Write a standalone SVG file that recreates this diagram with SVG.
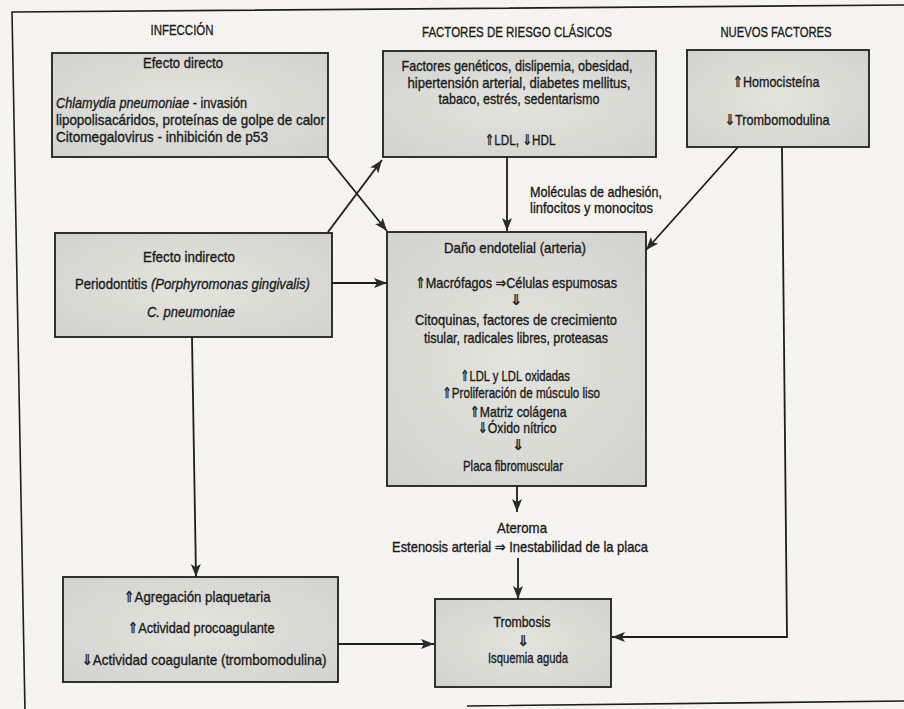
<svg xmlns="http://www.w3.org/2000/svg" width="904" height="709" viewBox="0 0 904 709">
<defs>
<radialGradient id="boxfill" cx="50%" cy="50%" r="70%">
<stop offset="0" stop-color="#e4e4df"/>
<stop offset="1" stop-color="#d2d3ce"/>
</radialGradient>
<marker id="arr" markerUnits="userSpaceOnUse" markerWidth="14" markerHeight="10" refX="13" refY="5" orient="auto">
<path d="M0,0 L13,5 L0,10 L3,5 Z" fill="#2a2a2a"/>
</marker>
</defs>
<style>
.bg{fill:#f6f4f1}
.frame{fill:none;stroke:#1e1e1e;stroke-width:1.6}
.box{fill:url(#boxfill);stroke:#1e1e1e;stroke-width:1.8}
text{font-family:"Liberation Sans","DejaVu Sans",sans-serif;font-size:15px;fill:#1a1a1a;stroke:#1a1a1a;stroke-width:0.35}
.c{text-anchor:middle}
.i{font-style:italic}
.sym{font-family:"DejaVu Sans",sans-serif}
.ar{fill:none;stroke:#1e1e1e;stroke-width:1.8;marker-end:url(#arr)}
</style>
<rect class="bg" x="0" y="0" width="904" height="709"/>
<path class="frame" d="M904,5 L12,12 L25,712 M467,706 L904,701"/>

<g id="headers">
<text class="c" x="182" y="35" textLength="63" lengthAdjust="spacingAndGlyphs">INFECCIÓN</text>
<text class="c" x="517" y="37" textLength="190" lengthAdjust="spacingAndGlyphs">FACTORES DE RIESGO CLÁSICOS</text>
<text class="c" x="776" y="37" textLength="111" lengthAdjust="spacingAndGlyphs">NUEVOS FACTORES</text>
</g>

<g id="connectors">
<path class="ar" d="M328,158 L387,231"/>
<path class="ar" d="M328,232 L382,160"/>
<path class="ar" d="M507,157 L507,231"/>
<path class="ar" d="M738,147 L646,250"/>
<path class="ar" d="M332,283 L387,283"/>
<path class="ar" d="M192,337 L196,577"/>
<path class="ar" d="M517,486 L517,512"/>
<path class="ar" d="M518,558 L518,599"/>
<path class="ar" d="M338,644 L434,644"/>
<path class="ar" d="M782,147 L787,637 L612,637"/>
</g>

<g id="efecto-directo">
<rect class="box" x="52" y="53" width="276" height="104"/>
<text class="c" x="183" y="68" textLength="80" lengthAdjust="spacingAndGlyphs">Efecto directo</text>
<text x="56" y="108" textLength="191" lengthAdjust="spacingAndGlyphs"><tspan class="i">Chlamydia pneumoniae</tspan> - invasión</text>
<text x="56" y="125" textLength="269" lengthAdjust="spacingAndGlyphs">lipopolisacáridos, proteínas de golpe de calor</text>
<text x="56" y="142" textLength="212" lengthAdjust="spacingAndGlyphs">Citomegalovirus - inhibición de p53</text>
</g>

<g id="factores-clasicos">
<rect class="box" x="383" y="51" width="273" height="106"/>
<text class="c" x="517" y="71" textLength="231" lengthAdjust="spacingAndGlyphs">Factores genéticos, dislipemia, obesidad,</text>
<text class="c" x="519" y="88" textLength="223" lengthAdjust="spacingAndGlyphs">hipertensión arterial, diabetes mellitus,</text>
<text class="c" x="519" y="104" textLength="161" lengthAdjust="spacingAndGlyphs">tabaco, estrés, sedentarismo</text>
<text class="c" x="520" y="145" textLength="71" lengthAdjust="spacingAndGlyphs">⇑LDL, ⇓HDL</text>
</g>

<g id="nuevos-factores">
<rect class="box" x="687" y="50" width="182" height="97"/>
<text class="c" x="776" y="87" textLength="87" lengthAdjust="spacingAndGlyphs">⇑Homocisteína</text>
<text class="c" x="777" y="125" textLength="105" lengthAdjust="spacingAndGlyphs">⇓Trombomodulina</text>
</g>

<g id="label-moleculas">
<text x="530" y="197" textLength="132" lengthAdjust="spacingAndGlyphs">Moléculas de adhesión,</text>
<text x="530" y="213" textLength="123" lengthAdjust="spacingAndGlyphs">linfocitos y monocitos</text>
</g>

<g id="efecto-indirecto">
<rect class="box" x="55" y="233" width="277" height="104"/>
<text class="c" x="189" y="262" textLength="92" lengthAdjust="spacingAndGlyphs">Efecto indirecto</text>
<text x="75" y="289" textLength="235" lengthAdjust="spacingAndGlyphs">Periodontitis <tspan class="i">(Porphyromonas gingivalis)</tspan></text>
<text class="c i" x="191" y="317" textLength="88" lengthAdjust="spacingAndGlyphs">C. pneumoniae</text>
</g>

<g id="dano-endotelial">
<rect class="box" x="387" y="232" width="259" height="254"/>
<text class="c" x="515" y="253" textLength="142" lengthAdjust="spacingAndGlyphs">Daño endotelial (arteria)</text>
<text class="c" x="516" y="288" textLength="202" lengthAdjust="spacingAndGlyphs">⇑Macrófagos ⇒Células espumosas</text>
<text class="c sym" x="516" y="305">⇓</text>
<text class="c" x="516" y="325" textLength="202" lengthAdjust="spacingAndGlyphs">Citoquinas, factores de crecimiento</text>
<text class="c" x="516" y="343" textLength="184" lengthAdjust="spacingAndGlyphs">tisular, radicales libres, proteasas</text>
<text class="c" x="515" y="381" textLength="110" lengthAdjust="spacingAndGlyphs">⇑LDL y LDL oxidadas</text>
<text class="c" x="521" y="398" textLength="158" lengthAdjust="spacingAndGlyphs">⇑Proliferación de músculo liso</text>
<text class="c" x="518" y="417" textLength="97" lengthAdjust="spacingAndGlyphs">⇑Matriz colágena</text>
<text class="c" x="517" y="433" textLength="79" lengthAdjust="spacingAndGlyphs">⇓Óxido nítrico</text>
<text class="c sym" x="518" y="450">⇓</text>
<text class="c" x="513" y="471" textLength="100" lengthAdjust="spacingAndGlyphs">Placa fibromuscular</text>
</g>

<g id="ateroma">
<text class="c" x="522" y="533" textLength="50" lengthAdjust="spacingAndGlyphs">Ateroma</text>
<text class="c" x="520" y="552" textLength="256" lengthAdjust="spacingAndGlyphs">Estenosis arterial ⇒ Inestabilidad de la placa</text>
</g>

<g id="agregacion">
<rect class="box" x="63" y="577" width="275" height="105"/>
<text class="c" x="197" y="602" textLength="147" lengthAdjust="spacingAndGlyphs">⇑Agregación plaquetaria</text>
<text class="c" x="201" y="633" textLength="147" lengthAdjust="spacingAndGlyphs">⇑Actividad procoagulante</text>
<text class="c" x="204" y="665" textLength="245" lengthAdjust="spacingAndGlyphs">⇓Actividad coagulante (trombomodulina)</text>
</g>

<g id="trombosis">
<rect class="box" x="435" y="599" width="176" height="88"/>
<text class="c" x="522" y="627" textLength="57" lengthAdjust="spacingAndGlyphs">Trombosis</text>
<text class="c sym" x="523" y="646">⇓</text>
<text class="c" x="528" y="663" textLength="80" lengthAdjust="spacingAndGlyphs">Isquemia aguda</text>
</g>
</svg>
